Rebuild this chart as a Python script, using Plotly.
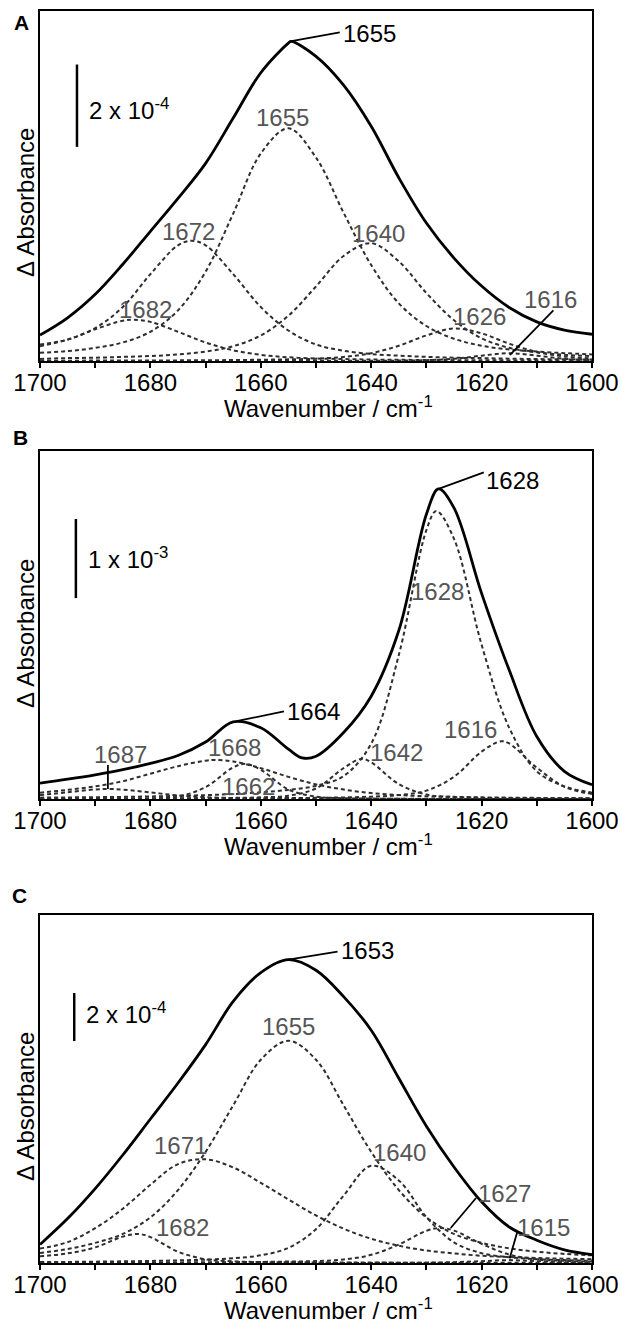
import plotly.graph_objects as go

# ---------------- data (ΔAbsorbance in units of 1e-4) ----------------
WAVENUMBER = [1700, 1695, 1690, 1685, 1680, 1675, 1670, 1665, 1660, 1655, 1650,
              1645, 1640, 1635, 1630, 1625, 1620, 1615, 1610, 1605, 1600]
X_TICKS = [1700, 1680, 1660, 1640, 1620, 1600]
X_TICK_LABELS = ["1700", "1680", "1660", "1640", "1620", "1600"]
X_MINOR_STEP = 10

# Panel A
A_TOTAL = [0.63, 1.05, 1.62, 2.35, 3.15, 3.95, 4.8, 5.9, 7.0, 7.72, 7.4, 6.7, 5.7, 4.45, 3.35, 2.5, 1.82, 1.3, 0.95, 0.75, 0.65]
A_TOTAL_PEAK = [1654.5, 7.76]
A_1682 = [0.36, 0.52, 0.77, 0.98, 0.95, 0.71, 0.45, 0.26, 0.15, 0.09, 0.06, 0.047, 0.036, 0.029, 0.025, 0.021, 0.018, 0.015, 0.013, 0.012, 0.01]
A_1682_PEAK = [1683.0, 1.0]
A_1672 = [0.40, 0.52, 0.80, 1.31, 2.11, 2.81, 2.81, 2.11, 1.31, 0.74, 0.40, 0.25, 0.17, 0.13, 0.10, 0.08, 0.07, 0.056, 0.047, 0.04, 0.035]
A_1672_PEAK = [1672.5, 2.92]
A_1655 = [0.20, 0.24, 0.32, 0.45, 0.71, 1.23, 2.17, 3.58, 5.04, 5.65, 4.94, 3.60, 2.33, 1.40, 0.85, 0.54, 0.37, 0.28, 0.23, 0.19, 0.16]
A_1640 = [0.05, 0.07, 0.08, 0.10, 0.12, 0.16, 0.23, 0.36, 0.62, 1.10, 1.81, 2.55, 2.86, 2.42, 1.65, 0.99, 0.55, 0.32, 0.21, 0.15, 0.12]
A_1626 = [0.007, 0.008, 0.01, 0.011, 0.013, 0.015, 0.018, 0.023, 0.03, 0.04, 0.057, 0.10, 0.19, 0.37, 0.62, 0.79, 0.67, 0.42, 0.22, 0.11, 0.06]
A_1616 = [0, 0, 0, 0, 0, 0, 0, 0.003, 0.003, 0.004, 0.004, 0.005, 0.007, 0.01, 0.02, 0.054, 0.13, 0.19, 0.13, 0.054, 0.02]

# Panel B
B_TOTAL = [2.0, 2.5, 3.05, 3.7, 4.5, 5.5, 7.2, 9.75, 9.0, 6.3, 5.4, 8.4, 13.0, 21.3, 36.0, 36.8, 26.0, 16.3, 7.9, 3.5, 1.8]
B_TOTAL_PEAK = [1627.8, 39.2]
B_TOTAL_MIN = [1652.5, 5.2]
B_1687 = [0.5, 0.85, 1.21, 1.19, 0.83, 0.45, 0.23, 0.12, 0.09, 0.065, 0.05, 0.04, 0.035, 0.03, 0.03, 0.025, 0.025, 0.02, 0.02, 0.02, 0.02]
B_1687_PEAK = [1687.7, 1.27]
B_1668 = [0.8, 1.15, 1.6, 2.25, 3.2, 4.15, 4.85, 4.75, 3.9, 2.8, 1.85, 1.2, 0.75, 0.5, 0.35, 0.27, 0.21, 0.17, 0.14, 0.12, 0.1]
B_1668_PEAK = [1668.3, 4.94]
B_1662 = [0, 0, 0, 0, 0.05, 0.3, 1.5, 4.0, 3.7, 1.2, 0.3, 0.1, 0.05, 0.02, 0.01, 0, 0, 0, 0, 0, 0]
B_1662_PEAK = [1662.9, 4.44]
B_1642 = [0.03, 0.035, 0.04, 0.05, 0.06, 0.08, 0.1, 0.14, 0.21, 0.42, 1.33, 3.9, 4.64, 1.88, 0.56, 0.25, 0.15, 0.1, 0.08, 0.06, 0.05]
B_1642_PEAK = [1641.8, 5.07]
B_1628 = [0.17, 0.2, 0.23, 0.27, 0.32, 0.40, 0.49, 0.63, 0.84, 1.15, 1.67, 2.9, 7.0, 18.2, 34.0, 32.9, 19.5, 9.0, 3.5, 1.6, 0.8]
B_1628_PEAK = [1628.2, 36.4]
B_1616 = [0.03, 0.03, 0.035, 0.04, 0.045, 0.05, 0.065, 0.08, 0.1, 0.12, 0.15, 0.2, 0.3, 0.49, 1.06, 2.81, 5.99, 7.02, 3.96, 1.55, 0.63]
B_1616_PEAK = [1616.5, 7.3]

# Panel C
C_TOTAL = [0.77, 1.85, 3.1, 4.5, 6.0, 7.5, 9.1, 10.9, 12.1, 12.64, 12.2, 11.1, 9.7, 7.7, 5.7, 4.0, 2.55, 1.5, 0.95, 0.55, 0.35]
C_1682 = [0.28, 0.4, 0.65, 1.1, 1.08, 0.47, 0.155, 0.07, 0.04, 0.03, 0.025, 0.02, 0.018, 0.015, 0.013, 0.011, 0.01, 0.009, 0.008, 0.007, 0.006]
C_1682_PEAK = [1682.2, 1.21]
C_1671 = [0.6, 0.87, 1.45, 2.26, 3.26, 4.12, 4.32, 3.98, 3.34, 2.65, 1.98, 1.43, 1.01, 0.72, 0.52, 0.40, 0.30, 0.25, 0.21, 0.18, 0.16]
C_1655 = [0.42, 0.58, 0.84, 1.21, 1.9, 3.04, 4.63, 6.57, 8.47, 9.26, 8.47, 6.57, 4.63, 3.04, 1.9, 1.21, 0.84, 0.61, 0.47, 0.38, 0.32]
C_1640 = [0.04, 0.045, 0.055, 0.07, 0.085, 0.11, 0.14, 0.2, 0.32, 0.63, 1.41, 2.81, 4.05, 3.44, 1.91, 0.86, 0.41, 0.24, 0.16, 0.12, 0.09]
C_1627 = [0.012, 0.013, 0.015, 0.017, 0.02, 0.025, 0.03, 0.035, 0.045, 0.06, 0.08, 0.15, 0.34, 0.77, 1.34, 1.35, 0.80, 0.35, 0.15, 0.09, 0.06]
C_1627_PEAK = [1627.4, 1.46]
C_1615 = [0, 0, 0, 0, 0, 0, 0, 0, 0, 0, 0, 0.005, 0.005, 0.008, 0.015, 0.035, 0.075, 0.12, 0.075, 0.035, 0.015]

# Y ranges (units of 1e-4) and scale bars
Y_RANGES = [8.5, 44.0, 14.5]
SCALE_BARS = [(1693.3, 5.2, 7.2), (1693.5, 25.4, 35.4), (1693.8, 9.25, 11.25)]
SCALE_TEXT = ["2 x 10<sup>-4</sup>", "1 x 10<sup>-3</sup>", "2 x 10<sup>-4</sup>"]
SCALE_TEXT_POS = [(1691.5, 6.12), (1691.6, 30.5), (1692.0, 10.4)]

# labels: (text, x, y)
A_GRAY_LABELS = [("1655", 1656.1, 5.92), ("1672", 1673.1, 3.14), ("1640", 1638.7, 3.10),
                 ("1682", 1680.8, 1.25), ("1626", 1620.3, 1.09), ("1616", 1607.6, 1.49)]
B_GRAY_LABELS = [("1628", 1628.0, 26.2), ("1616", 1622.1, 8.79), ("1642", 1635.5, 5.91),
                 ("1668", 1664.7, 6.46), ("1662", 1662.2, 1.56), ("1687", 1685.5, 5.62)]
C_GRAY_LABELS = [("1655", 1654.9, 9.86), ("1671", 1674.6, 4.9), ("1640", 1634.8, 4.62),
                 ("1682", 1674.2, 1.5), ("1627", 1615.8, 2.9), ("1615", 1608.7, 1.46)]
A_BLACK_LABELS = [("1655", 1640.3, 7.96)]
B_BLACK_LABELS = [("1628", 1614.4, 40.3), ("1664", 1650.5, 11.1)]
C_BLACK_LABELS = [("1653", 1640.7, 13.0)]
A_LEADERS = [(1654.7, 7.76, 1645.7, 7.98), (1614.9, 0.14, 1607.0, 1.23)]
B_LEADERS = [(1627.8, 39.2, 1619.6, 41.3), (1664.4, 9.84, 1655.8, 11.07), (1687.7, 1.27, 1687.7, 4.3)]
C_LEADERS = [(1655.0, 12.64, 1646.1, 12.97), (1625.6, 1.46, 1621.0, 2.71), (1614.9, 0.21, 1613.5, 1.32)]

PANEL_LETTERS = ["A", "B", "C"]

# ---------------- layout geometry (pixels) ----------------
W, H = 621, 1323
X_LEFT, X_RIGHT = 40, 592
PANEL_TOP = [11, 451, 915]
PANEL_BOTTOM = [361, 799, 1263]
YTITLE_CENTER = [203, 634, 1107]
LETTER_POS = [(21, 22), (20, 437), (19, 895)]


def py(p):
    return 1 - p / H


def curve(vals, extras=()):
    pts = list(zip(WAVENUMBER, vals)) + [tuple(e) for e in extras]
    pts.sort(key=lambda p: -p[0])
    return [p[0] for p in pts], [p[1] for p in pts]


panels = [
    dict(total=curve(A_TOTAL, [A_TOTAL_PEAK]),
         comps=[curve(A_1682, [A_1682_PEAK]), curve(A_1672, [A_1672_PEAK]), curve(A_1655),
                curve(A_1640), curve(A_1626), curve(A_1616)],
         gray=A_GRAY_LABELS, black=A_BLACK_LABELS, leaders=A_LEADERS),
    dict(total=curve(B_TOTAL, [B_TOTAL_PEAK, B_TOTAL_MIN]),
         comps=[curve(B_1687, [B_1687_PEAK]), curve(B_1668, [B_1668_PEAK]), curve(B_1662, [B_1662_PEAK]),
                curve(B_1642, [B_1642_PEAK]), curve(B_1628, [B_1628_PEAK]), curve(B_1616, [B_1616_PEAK])],
         gray=B_GRAY_LABELS, black=B_BLACK_LABELS, leaders=B_LEADERS),
    dict(total=curve(C_TOTAL),
         comps=[curve(C_1682, [C_1682_PEAK]), curve(C_1671), curve(C_1655),
                curve(C_1640), curve(C_1627, [C_1627_PEAK]), curve(C_1615)],
         gray=C_GRAY_LABELS, black=C_BLACK_LABELS, leaders=C_LEADERS),
]

FONT = "Liberation Sans, Arial, sans-serif"
fig = go.Figure()
shapes = []
annotations = []
layout_axes = {}

for i, p in enumerate(panels):
    n = "" if i == 0 else str(i + 1)
    xa, ya = "x" + n, "y" + n
    for cx, cy in p["comps"]:
        fig.add_trace(go.Scatter(x=cx, y=cy, mode="lines", xaxis=xa, yaxis=ya,
                                 line=dict(color="#2e2e2e", width=2, dash="4px,3px",
                                           shape="spline", smoothing=1.0),
                                 hoverinfo="skip", showlegend=False))
    tx, ty = p["total"]
    fig.add_trace(go.Scatter(x=tx, y=ty, mode="lines", xaxis=xa, yaxis=ya,
                             line=dict(color="black", width=2.8, shape="spline", smoothing=1.0),
                             hoverinfo="skip", showlegend=False))

    layout_axes["xaxis" + n] = dict(
        domain=[X_LEFT / W, X_RIGHT / W], range=[1700, 1600], anchor=ya, automargin=False,
        tickmode="array", tickvals=X_TICKS, ticktext=X_TICK_LABELS,
        ticks="outside", ticklen=5, tickwidth=2, tickcolor="black",
        minor=dict(tickmode="linear", tick0=1600, dtick=X_MINOR_STEP, ticks="outside",
                   ticklen=5, tickwidth=2, tickcolor="black", showgrid=False),
        ticklabelstandoff=-6,
        showline=True, linewidth=2, linecolor="black", mirror=True,
        showgrid=False, zeroline=False,
        tickfont=dict(size=24, color="black", family=FONT))
    layout_axes["yaxis" + n] = dict(
        domain=[py(PANEL_BOTTOM[i]), py(PANEL_TOP[i])], range=[0, Y_RANGES[i]], anchor=xa,
        automargin=False,
        showticklabels=False, ticks="", showline=True, linewidth=2, linecolor="black",
        mirror=True, showgrid=False, zeroline=False)

    bx, by0, by1 = SCALE_BARS[i]
    shapes.append(dict(type="line", xref=xa, yref=ya, x0=bx, x1=bx, y0=by0, y1=by1,
                       line=dict(color="black", width=2.5)))
    sx, sy = SCALE_TEXT_POS[i]
    annotations.append(dict(x=sx, y=sy, xref=xa, yref=ya, text=SCALE_TEXT[i], showarrow=False,
                            xanchor="left", yanchor="middle",
                            font=dict(size=24, color="black", family=FONT)))
    for x0, y0, x1, y1 in p["leaders"]:
        shapes.append(dict(type="line", xref=xa, yref=ya, x0=x0, y0=y0, x1=x1, y1=y1,
                           line=dict(color="black", width=1.8)))
    for t, lx, ly in p["gray"]:
        annotations.append(dict(x=lx, y=ly, xref=xa, yref=ya, text=t, showarrow=False,
                                xanchor="center", yanchor="middle",
                                font=dict(size=24, color="#555555", family=FONT)))
    for t, lx, ly in p["black"]:
        annotations.append(dict(x=lx, y=ly, xref=xa, yref=ya, text=t, showarrow=False,
                                xanchor="center", yanchor="middle",
                                font=dict(size=24, color="black", family=FONT)))
    annotations.append(dict(x=328 / W, y=py(PANEL_BOTTOM[i] + 46), xref="paper", yref="paper",
                            text="Wavenumber / cm<sup>-1</sup>", showarrow=False,
                            xanchor="center", yanchor="middle",
                            font=dict(size=24, color="black", family=FONT)))
    annotations.append(dict(x=25 / W, y=py(YTITLE_CENTER[i]), xref="paper", yref="paper",
                            text="Δ Absorbance", showarrow=False, textangle=-90,
                            xanchor="center", yanchor="middle",
                            font=dict(size=24, color="black", family=FONT)))
    lx, ly = LETTER_POS[i]
    annotations.append(dict(x=lx / W, y=py(ly), xref="paper", yref="paper",
                            text="<b>" + PANEL_LETTERS[i] + "</b>", showarrow=False,
                            xanchor="center", yanchor="middle",
                            font=dict(size=21, color="black", family=FONT)))

fig.update_layout(width=W, height=H, margin=dict(l=0, r=0, t=0, b=0, autoexpand=False),
                  paper_bgcolor="white", plot_bgcolor="white", showlegend=False,
                  font=dict(family=FONT, color="black"),
                  shapes=shapes, annotations=annotations, **layout_axes)

fig.write_html("out.html", config={"displayModeBar": False},
               post_script="document.body.style.margin='0px';")
